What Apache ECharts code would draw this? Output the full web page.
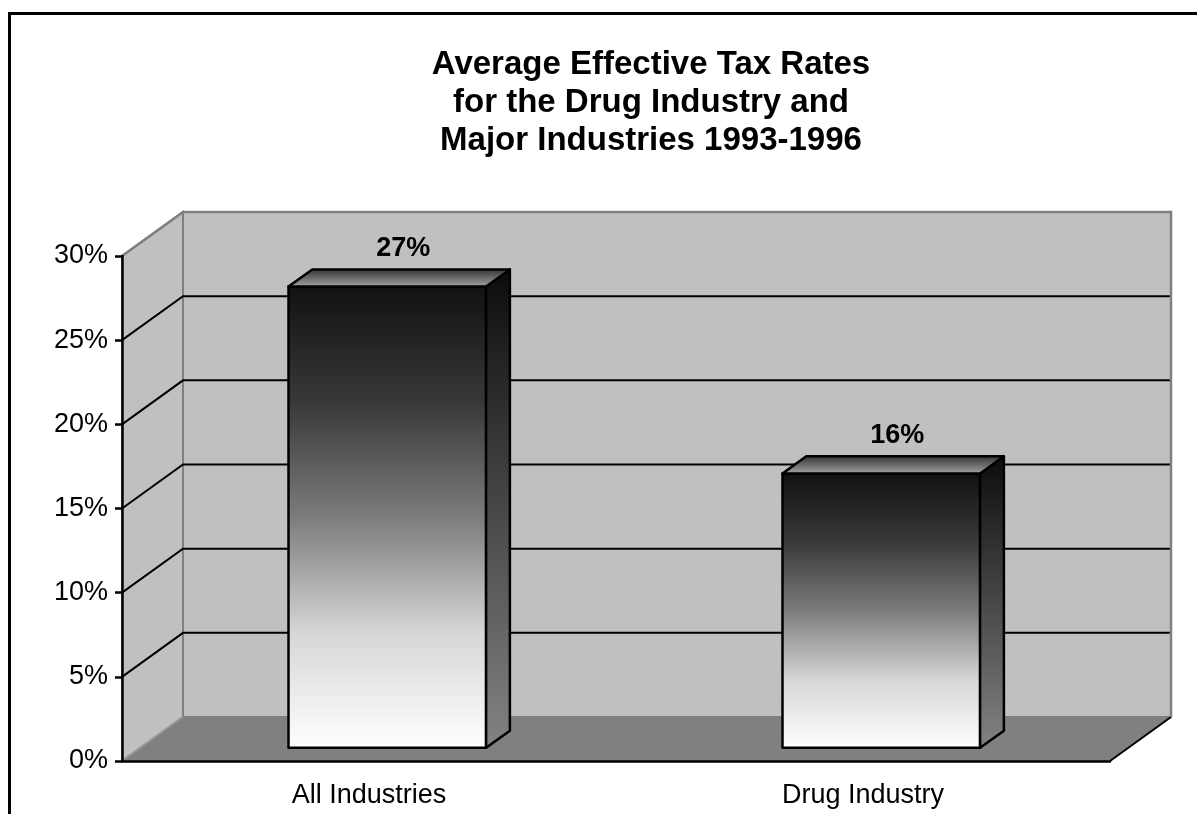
<!DOCTYPE html>
<html>
<head>
<meta charset="utf-8">
<script src="https://cdn.jsdelivr.net/npm/echarts@6/dist/echarts.min.js"></script>
<style>
html,body{margin:0;padding:0;background:#fff;}
#chart{width:1197px;height:814px;}
</style>
</head>
<body>
<div id="chart"></div>
<script>
// ---- data ----
var titleLines = ['Average Effective Tax Rates', 'for the Drug Industry and', 'Major Industries 1993-1996'];
var categories = ['All Industries', 'Drug Industry'];
var values = [27.4, 16.3];            // percent
var yTicks = [0, 5, 10, 15, 20, 25, 30];

// ---- 3D projection style ----
var DX = 61, DY = -44;               // depth offset of back wall
var F0 = 0.30, F1 = 0.69;            // bar front/back depth fractions
var FONT = "'Liberation Sans', Arial, sans-serif";

var chart = echarts.init(document.getElementById('chart'), null, {renderer: 'canvas'});

function wallRender(params, api) {
  var yMin = yTicks[0], yMax = yTicks[yTicks.length - 1];
  var bl = api.coord([0, yMin]), br = api.coord([1, yMin]);
  var tl = api.coord([0, yMax]);
  var children = [];
  children.push({type: 'polygon', shape: {points: [
    [tl[0] + DX, tl[1] + DY], [br[0] + DX, tl[1] + DY], [br[0] + DX, bl[1] + DY], [bl[0] + DX, bl[1] + DY]
  ]}, style: {fill: '#c0c0c0', stroke: '#808080', lineWidth: 2}});
  children.push({type: 'polygon', shape: {points: [
    [tl[0], tl[1]], [tl[0] + DX, tl[1] + DY], [bl[0] + DX, bl[1] + DY], [bl[0], bl[1]]
  ]}, style: {fill: '#c0c0c0', stroke: '#808080', lineWidth: 2}});
  children.push({type: 'polygon', shape: {points: [
    [bl[0], bl[1]], [br[0], br[1]], [br[0] + DX, br[1] + DY], [bl[0] + DX, bl[1] + DY]
  ]}, style: {fill: '#808080', stroke: '#808080', lineWidth: 1}});
  children.push({type: 'line', shape: {x1: br[0], y1: br[1], x2: br[0] + DX, y2: br[1] + DY},
    style: {stroke: '#000', lineWidth: 2}});
  children.push({type: 'line', shape: {x1: bl[0], y1: bl[1], x2: bl[0] + DX, y2: bl[1] + DY},
    style: {stroke: '#9a9a9a', lineWidth: 1.5}});
  for (var i = 1; i < yTicks.length - 1; i++) {
    var p = api.coord([0, yTicks[i]]);
    children.push({type: 'polyline', shape: {points: [
      [p[0], p[1]], [p[0] + DX, p[1] + DY], [br[0] + DX, p[1] + DY]
    ]}, style: {stroke: '#000', lineWidth: 2, fill: null}});
  }
  children.push({type: 'polyline', shape: {points: [
    [tl[0], tl[1]], [tl[0] + DX, tl[1] + DY], [br[0] + DX, tl[1] + DY], [br[0] + DX, bl[1] + DY]
  ]}, style: {stroke: '#808080', lineWidth: 2.5, fill: null}});
  return {type: 'group', children: children};
}

function barRender(params, api) {
  var idx = api.value(0), val = api.value(1);
  var c0 = api.coord([idx, 0]), c1 = api.coord([idx, val]);
  var bw = api.size([1, 0])[0] * 0.4;
  var fx0 = c0[0] - bw / 2 + F0 * DX, fx1 = fx0 + bw;
  var fyB = c0[1] + F0 * DY, fyT = c1[1] + F0 * DY;
  var ddx = (F1 - F0) * DX, ddy = (F1 - F0) * DY;
  var frontGrad = new echarts.graphic.LinearGradient(0, 0, 0, 1, [
    {offset: 0, color: '#111111'}, {offset: 0.25, color: '#383838'}, {offset: 0.5, color: '#7c7c7c'},
    {offset: 0.75, color: '#d6d6d6'}, {offset: 1, color: '#ffffff'}]);
  var sideGrad = new echarts.graphic.LinearGradient(0, 0, 0, 1, [
    {offset: 0, color: '#0c0c0c'}, {offset: 1, color: '#838383'}]);
  var topGrad = new echarts.graphic.LinearGradient(0, 0, 0, 1, [
    {offset: 0, color: '#2e2e2e'}, {offset: 1, color: '#a8a8a8'}]);
  var stroke = {stroke: '#000', lineWidth: 2.5, lineJoin: 'round'};
  return {type: 'group', children: [
    {type: 'polygon', shape: {points: [[fx0, fyT], [fx1, fyT], [fx1, fyB], [fx0, fyB]]},
      style: Object.assign({fill: frontGrad}, stroke)},
    {type: 'polygon', shape: {points: [[fx1, fyT], [fx1 + ddx, fyT + ddy], [fx1 + ddx, fyB + ddy], [fx1, fyB]]},
      style: Object.assign({fill: sideGrad}, stroke)},
    {type: 'polygon', shape: {points: [[fx0, fyT], [fx0 + ddx, fyT + ddy], [fx1 + ddx, fyT + ddy], [fx1, fyT]]},
      style: Object.assign({fill: topGrad}, stroke)},
    {type: 'text', style: {text: Math.round(val) + '%', x: (fx0 + fx1 + ddx) / 2 + 4, y: fyT + ddy - 7,
      align: 'center', verticalAlign: 'bottom', font: 'bold 27px ' + FONT, fill: '#000'}}
  ]};
}

var option = {
  animation: false,
  backgroundColor: '#fff',
  title: {
    text: titleLines.join('\n'),
    left: 646, top: 41, textAlign: 'center',
    textStyle: {fontFamily: FONT, fontSize: 33, fontWeight: 'bold', lineHeight: 38, color: '#000'}
  },
  graphic: [{type: 'rect', shape: {x: 9.5, y: 13.5, width: 1300, height: 900},
    style: {fill: null, stroke: '#000', lineWidth: 3}, z: 100}],
  grid: {left: 122, right: 87, top: 256, bottom: 53},
  xAxis: [{
    type: 'category', data: categories, z: 10,
    axisLine: {lineStyle: {color: '#000', width: 2.5}},
    axisTick: {length: 8, lineStyle: {color: '#000', width: 2.5}},
    axisLabel: {color: '#000', fontFamily: FONT, fontSize: 27, margin: 21}
  }, {
    type: 'value', min: 0, max: 1, show: false
  }],
  yAxis: {
    type: 'value', min: 0, max: 30, interval: 5, z: 10,
    axisLine: {show: true, lineStyle: {color: '#000', width: 2.5}},
    axisTick: {show: true, length: 7, lineStyle: {color: '#000', width: 2.5}},
    splitLine: {show: false},
    axisLabel: {color: '#000', fontFamily: FONT, fontSize: 27, margin: 14, padding: [6, 0, 0, 0], formatter: '{value}%'}
  },
  series: [{
    type: 'custom', xAxisIndex: 1, z: 0, silent: true,
    data: [[0, 0]], renderItem: wallRender
  }, {
    type: 'custom', xAxisIndex: 0, z: 3,
    data: categories.map(function (c, i) { return [c, values[i]]; }),
    encode: {x: 0, y: 1},
    renderItem: barRender
  }]
};
chart.setOption(option);
</script>
</body>
</html>
